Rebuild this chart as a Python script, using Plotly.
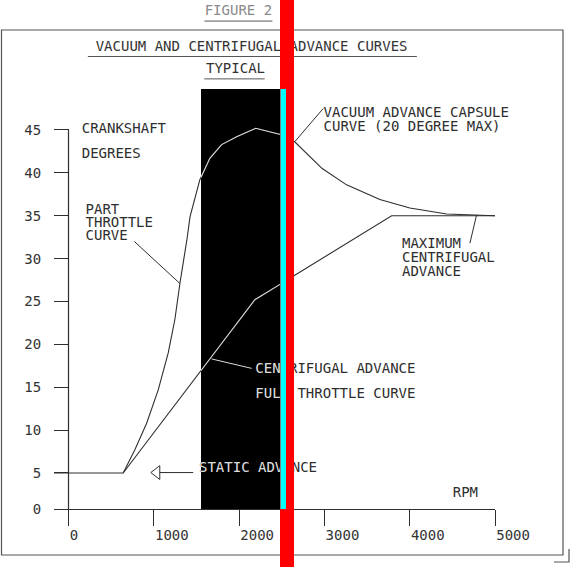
import numpy as np
import plotly.graph_objects as go

W, H = 575, 567
ML, MR, MT, MB = 54, 80, 0, 58

# axis ranges (rpm, crankshaft degrees)
x_range = [-170, 5000]
y_range = [0.8, 60.16]

x_ticks = [0, 1000, 2000, 3000, 4000, 5000]
y_ticks = [0.8, 5, 10, 15, 20, 25, 30, 35, 40, 45]
y_ticktext = ["0", "5", "10", "15", "20", "25", "30", "35", "40", "45"]

# part throttle (vacuum advance capsule) curve
vac_rpm = [-170, 641, 778, 916, 1052, 1169, 1247, 1306, 1388, 1425, 1540, 1657,
           1795, 1971, 2195, 2478, 2655, 2974, 3260, 3650, 4002, 4433, 5000]
vac_deg = [5.0, 5.0, 7.7, 10.8, 14.7, 19.0, 22.9, 27.1, 32.2, 34.9, 39.2, 41.7,
           43.3, 44.2, 45.2, 44.5, 43.6, 40.5, 38.6, 36.9, 35.9, 35.2, 35.0]

# full throttle (centrifugal advance) curve
cen_rpm = [641, 2185, 3788, 5000]
cen_deg = [5.0, 25.2, 35.0, 35.0]

# labels: left aligned
lab_text = ["CRANKSHAFT", "DEGREES", "PART", "THROTTLE", "CURVE",
            "VACUUM ADVANCE CAPSULE", "CURVE (20 DEGREE MAX)",
            "MAXIMUM", "CENTRIFUGAL", "ADVANCE",
            "CENTRIFUGAL ADVANCE", "FULL THROTTLE CURVE", "STATIC ADVANCE", "RPM"]
lab_x = [155, 155, 200, 200, 200, 2990, 2990, 3910, 3910, 3910, 2190, 2190, 1530, 4505]
lab_y = [45.0, 42.1, 35.6, 34.05, 32.6, 46.95, 45.3, 31.6, 29.97, 28.4, 17.1, 14.15, 5.48, 2.65]

# parts of labels that sit on the black block
inv_text = ["CEN", "FUL", "STATIC ADV"]
inv_x = [2190, 2190, 1530]
inv_y = [17.1, 14.15, 5.48]

# headings: centred
head_text = ["FIGURE 2", "VACUUM AND CENTRIFUGAL ADVANCE CURVES", "TYPICAL"]
head_x = [1992, 2147, 1958]
head_y = [58.8, 54.6, 52.0]
head_color = ["#8a8a8a", "#333333", "#333333"]
uline_x0 = [1594, 227, 1591]
uline_x1 = [2390, 4084, 2300]
uline_y = [57.7, 53.57, 50.96]

# leader lines (start, end)
leaders = [((772, 32.0), (1306, 27.1)),
           ((2654, 43.65), (2986, 47.5)),
           ((4784, 35.1), (4706, 31.8))]
leaders_inv = [((1678, 18.3), (2147, 17.2))]

arrow_tip = (1035, 5.05)
arrow_line = ((1070, 5.05), (1462, 5.05))

black_rpm = [1552, 2484]

INK = "#2e2e2e"
INV = "#dcdcdc"
FONT = "DejaVu Sans Mono"


def px_x(p):
    return (p - ML) / (W - ML - MR)


def px_y(p):
    return (H - MB - p) / (H - MT - MB)


def inside(xs, ys, lo, hi):
    xs = np.asarray(xs, float)
    ys = np.asarray(ys, float)
    lo = max(lo, xs[0])
    hi = min(hi, xs[-1])
    mid = (xs > lo) & (xs < hi)
    px = np.concatenate([[lo], xs[mid], [hi]])
    py = np.concatenate([[np.interp(lo, xs, ys)], ys[mid], [np.interp(hi, xs, ys)]])
    return px, py


def segs(pairs):
    xs, ys = [], []
    for a, b in pairs:
        xs += [a[0], b[0], None]
        ys += [a[1], b[1], None]
    return xs, ys


fig = go.Figure()

# curves
fig.add_trace(go.Scatter(x=vac_rpm, y=vac_deg, mode="lines",
                         line=dict(color=INK, width=1.1)))
fig.add_trace(go.Scatter(x=cen_rpm, y=cen_deg, mode="lines",
                         line=dict(color=INK, width=1.1)))
for xs, ys in [inside(vac_rpm, vac_deg, *black_rpm), inside(cen_rpm, cen_deg, *black_rpm)]:
    fig.add_trace(go.Scatter(x=xs, y=ys, mode="lines", line=dict(color=INV, width=1.1)))

# leaders
lx, ly = segs(leaders)
fig.add_trace(go.Scatter(x=lx, y=ly, mode="lines", line=dict(color=INK, width=1)))
lx, ly = segs(leaders_inv)
fig.add_trace(go.Scatter(x=lx, y=ly, mode="lines", line=dict(color=INV, width=1)))

# static advance arrow
fig.add_trace(go.Scatter(x=[arrow_line[0][0], arrow_line[1][0]],
                         y=[arrow_line[0][1], arrow_line[1][1]], mode="lines",
                         line=dict(color=INK, width=1)))
fig.add_trace(go.Scatter(x=[arrow_tip[0]], y=[arrow_tip[1]], mode="markers",
                         marker=dict(symbol="triangle-left-open", size=12,
                                     color=INK, line=dict(width=1, color=INK))))

# underlines
ux, uy = [], []
for a, b, y in zip(uline_x0, uline_x1, uline_y):
    ux += [a, b, None]
    uy += [y, y, None]
fig.add_trace(go.Scatter(x=ux, y=uy, mode="lines", line=dict(color="#555555", width=1)))

# text
fig.add_trace(go.Scatter(x=lab_x, y=lab_y, text=lab_text, mode="text",
                         textposition="middle right", cliponaxis=False,
                         textfont=dict(family=FONT, size=14, color=INK)))
fig.add_trace(go.Scatter(x=inv_x, y=inv_y, text=inv_text, mode="text",
                         textposition="middle right", cliponaxis=False,
                         textfont=dict(family=FONT, size=14, color=INV)))
fig.add_trace(go.Scatter(x=head_x, y=head_y, text=head_text, mode="text",
                         textposition="middle center", cliponaxis=False,
                         textfont=dict(family=FONT, size=14, color=head_color)))

fig.update_traces(showlegend=False, hoverinfo="skip")

shapes = [
    # frame
    dict(type="rect", xref="paper", yref="paper", layer="below",
         x0=px_x(1.5), x1=px_x(563), y0=px_y(555), y1=px_y(30),
         line=dict(color="#555555", width=1.2)),
    dict(type="path", xref="paper", yref="paper", layer="below",
         path=f"M {px_x(569)} {px_y(549)} L {px_x(569)} {px_y(562)} L {px_x(554)} {px_y(562)}",
         line=dict(color="#555555", width=1.2)),
    # y axis line
    dict(type="line", xref="x", yref="y", layer="below",
         x0=0, x1=0, y0=y_range[0], y1=45, line=dict(color=INK, width=1.2)),
    # black block
    dict(type="rect", xref="paper", yref="paper", layer="below",
         x0=px_x(201), x1=px_x(280.5), y0=px_y(509), y1=px_y(89),
         fillcolor="black", line=dict(width=0)),
    # red bar
    dict(type="rect", xref="paper", yref="paper", layer="above",
         x0=px_x(280), x1=px_x(294), y0=px_y(H), y1=px_y(0),
         fillcolor="#ff0000", line=dict(width=0)),
    # cyan strip
    dict(type="rect", xref="paper", yref="paper", layer="above",
         x0=px_x(280.5), x1=px_x(286), y0=px_y(509), y1=px_y(89),
         fillcolor="#00ffff", line=dict(width=0)),
]

fig.update_layout(
    width=W, height=H,
    margin=dict(l=ML, r=MR, t=MT, b=MB, pad=0, autoexpand=False),
    paper_bgcolor="white",
    plot_bgcolor="rgba(0,0,0,0)",
    shapes=shapes,
    xaxis=dict(range=x_range, tickvals=x_ticks, ticks="outside", ticklen=16,
               tickcolor=INK, tickwidth=1.2, showline=True, linecolor=INK,
               linewidth=1.2, showgrid=False, zeroline=False, automargin=False,
               ticklabelposition="outside right", ticklabelstandoff=13,
               tickfont=dict(family=FONT, size=14, color="#333333")),
    yaxis=dict(range=y_range, tickvals=y_ticks, ticktext=y_ticktext,
               ticks="outside", ticklen=14.5, tickcolor=INK, tickwidth=1.2,
               showline=False, showgrid=False, zeroline=False, automargin=False,
               anchor="free", position=(0 - x_range[0]) / (x_range[1] - x_range[0]),
               ticklabelstandoff=10,
               tickfont=dict(family=FONT, size=14, color="#333333")),
)

fig.write_html("out.html", config={"displayModeBar": False},
               post_script="document.body.style.margin = '0';")
